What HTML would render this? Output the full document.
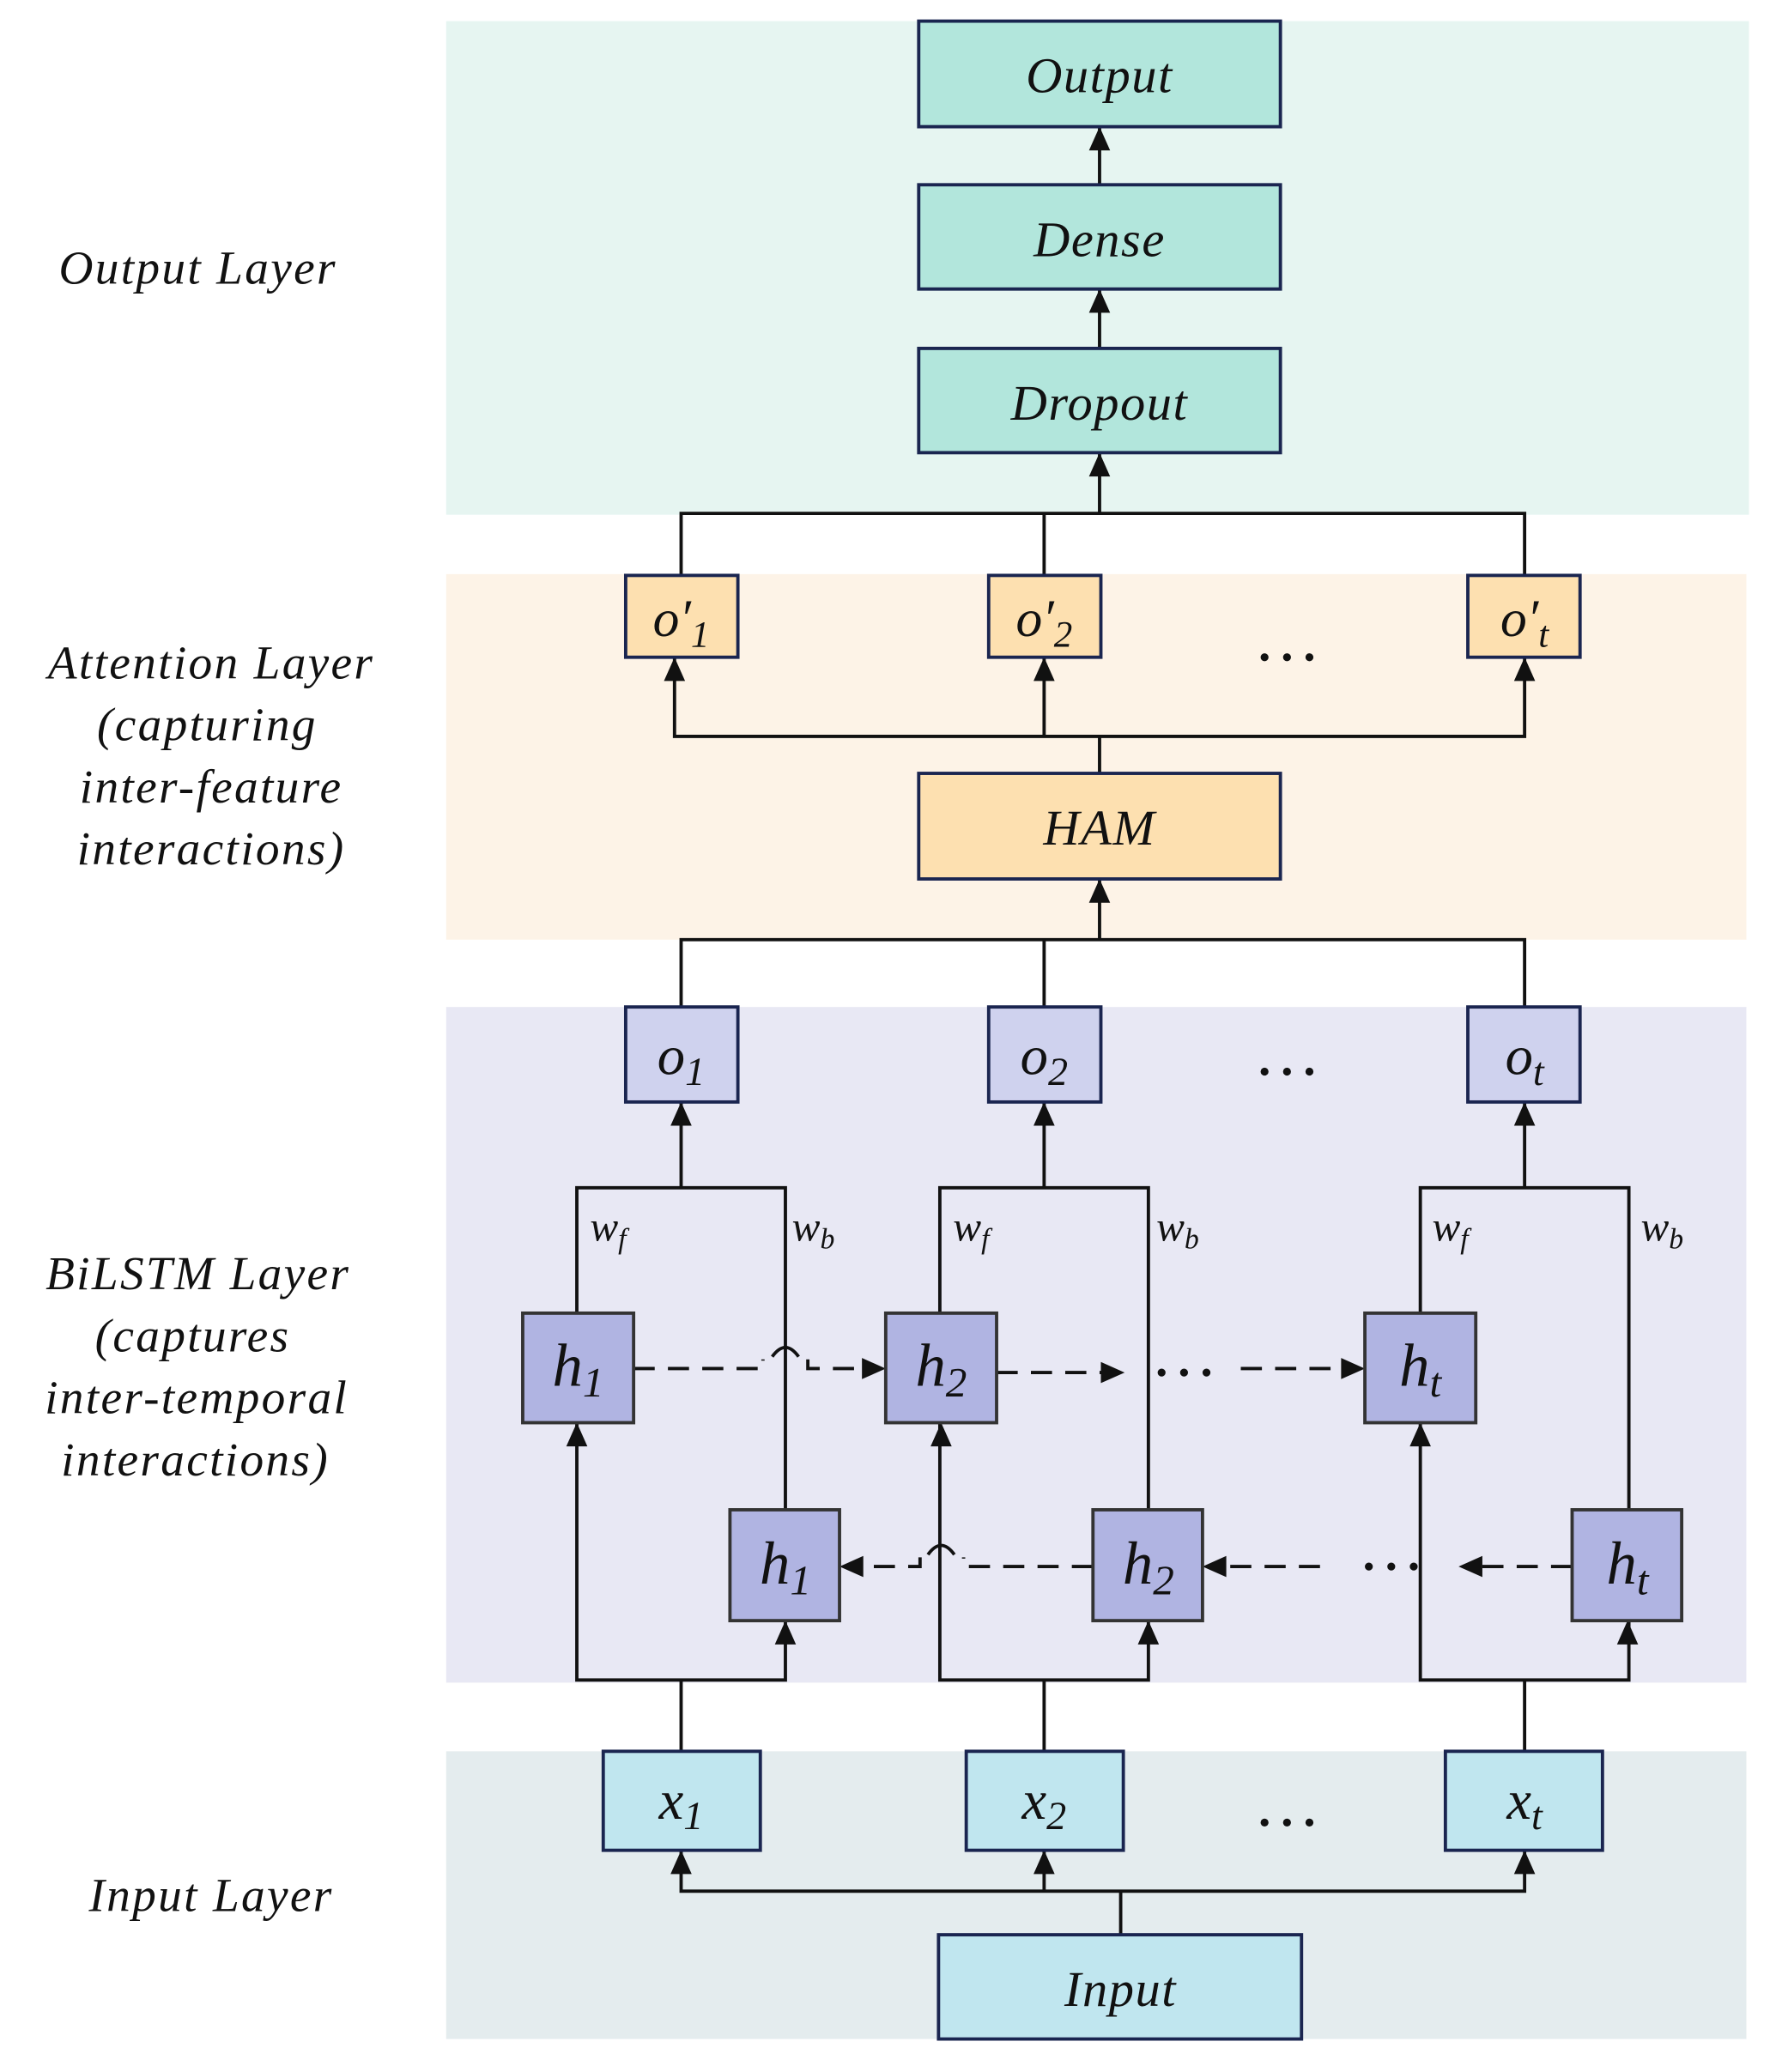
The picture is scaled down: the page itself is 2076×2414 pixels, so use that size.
<!DOCTYPE html>
<html><head><meta charset="utf-8"><style>
html,body{margin:0;padding:0;background:#fff;}
svg{display:block;}
text{font-family:"Liberation Serif",serif;font-style:italic;fill:#111;}
</style></head><body>
<svg width="2076" height="2414" viewBox="0 0 1350 1570" preserveAspectRatio="none" xmlns="http://www.w3.org/2000/svg">
<rect x="338" y="16" width="987" height="374" fill="#e6f5f1"/>
<rect x="338" y="435" width="985" height="277" fill="#fdf3e7"/>
<rect x="338" y="763" width="985" height="512" fill="#e8e8f4"/>
<rect x="338" y="1327" width="985" height="218" fill="#e4ecee"/>

<g stroke="#111" stroke-width="2.5" fill="none">
<line x1="833" y1="96" x2="833" y2="140"/>
<line x1="833" y1="219" x2="833" y2="264"/>
<line x1="833" y1="343" x2="833" y2="389"/>
<polyline points="516,436 516,389 1155,389 1155,436"/>
<line x1="791" y1="389" x2="791" y2="436"/>
<polyline points="511,498 511,558 1155,558 1155,498"/>
<line x1="791" y1="558" x2="791" y2="498"/>
<line x1="833" y1="558" x2="833" y2="586"/>
<line x1="833" y1="666" x2="833" y2="712"/>
<polyline points="516,763 516,712 1155,712 1155,763"/>
<line x1="791" y1="712" x2="791" y2="763"/>
<g id="g1">
<line x1="516" y1="835" x2="516" y2="900"/>
<polyline points="437,995 437,900 595,900 595,1144"/>
<polyline points="437,1078 437,1273 595,1273 595,1228"/>
<line x1="516" y1="1273" x2="516" y2="1327"/>
</g>
<use href="#g1" x="275"/>
<use href="#g1" x="639"/>
<polyline points="516,1402 516,1433 1155,1433 1155,1402"/>
<line x1="791" y1="1433" x2="791" y2="1402"/>
<line x1="849" y1="1433" x2="849" y2="1466"/>
</g>

<g stroke="#111" stroke-width="2.5" fill="none" stroke-dasharray="16,10">
<polyline points="480,1037 578,1037 578,1030"/>
<polyline points="612,1030 612,1037 660,1037"/>
<line x1="755" y1="1040" x2="838" y2="1040"/>
<line x1="940" y1="1037" x2="1022" y2="1037"/>
<polyline points="828,1187 730,1187 730,1180"/>
<polyline points="697,1180 697,1187 648,1187"/>
<line x1="1000" y1="1187" x2="922" y2="1187"/>
<line x1="1191" y1="1187" x2="1117" y2="1187"/>
</g>
<g stroke="#111" stroke-width="2.5" fill="none">
<path d="M585,1028 Q595,1014 605,1028"/>
<path d="M703,1178 Q713,1164 723,1178"/>
</g>
<g fill="#111">
<polygon points="833,96 825,114 841,114"/>
<polygon points="833,219 825,237 841,237"/>
<polygon points="833,343 825,361 841,361"/>
<polygon points="511,498 503,516 519,516"/>
<polygon points="791,498 783,516 799,516"/>
<polygon points="1155,498 1147,516 1163,516"/>
<polygon points="833,666 825,684 841,684"/>
<polygon points="516,835 508,853 524,853"/>
<polygon points="791,835 783,853 799,853"/>
<polygon points="1155,835 1147,853 1163,853"/>
<polygon points="437,1078 429,1096 445,1096"/>
<polygon points="713,1078 705,1096 721,1096"/>
<polygon points="1076,1078 1068,1096 1084,1096"/>
<polygon points="595,1228 587,1246 603,1246"/>
<polygon points="870,1228 862,1246 878,1246"/>
<polygon points="1233,1228 1225,1246 1241,1246"/>
<polygon points="516,1402 508,1420 524,1420"/>
<polygon points="791,1402 783,1420 799,1420"/>
<polygon points="1155,1402 1147,1420 1163,1420"/>
<polygon points="671,1037 653,1029 653,1045"/>
<polygon points="852,1040 834,1032 834,1048"/>
<polygon points="1034,1037 1016,1029 1016,1045"/>
<polygon points="636,1187 654,1179 654,1195"/>
<polygon points="911,1187 929,1179 929,1195"/>
<polygon points="1105,1187 1123,1179 1123,1195"/>
<circle cx="880" cy="1040" r="3"/><circle cx="897" cy="1040" r="3"/><circle cx="914" cy="1040" r="3"/>
<circle cx="1037" cy="1187" r="3"/><circle cx="1054" cy="1187" r="3"/><circle cx="1071" cy="1187" r="3"/>
<circle cx="958" cy="498" r="3"/><circle cx="975" cy="498" r="3"/><circle cx="992" cy="498" r="3"/>
<circle cx="958" cy="812" r="3"/><circle cx="975" cy="812" r="3"/><circle cx="992" cy="812" r="3"/>
<circle cx="958" cy="1381" r="3"/><circle cx="975" cy="1381" r="3"/><circle cx="992" cy="1381" r="3"/>
</g>

<g stroke="#1a2550" stroke-width="2.5">
<rect x="696" y="16" width="274" height="80" fill="#b2e6dc"/>
<rect x="696" y="140" width="274" height="79" fill="#b2e6dc"/>
<rect x="696" y="264" width="274" height="79" fill="#b2e6dc"/>
<rect x="474" y="436" width="85" height="62" fill="#fde0b0"/>
<rect x="749" y="436" width="85" height="62" fill="#fde0b0"/>
<rect x="1112" y="436" width="85" height="62" fill="#fde0b0"/>
<rect x="696" y="586" width="274" height="80" fill="#fde0b0"/>
<rect x="474" y="763" width="85" height="72" fill="#cfd2ee"/>
<rect x="749" y="763" width="85" height="72" fill="#cfd2ee"/>
<rect x="1112" y="763" width="85" height="72" fill="#cfd2ee"/>
<rect x="396" y="995" width="84" height="83" fill="#b0b4e2" stroke="#333"/>
<rect x="671" y="995" width="84" height="83" fill="#b0b4e2" stroke="#333"/>
<rect x="1034" y="995" width="84" height="83" fill="#b0b4e2" stroke="#333"/>
<rect x="553" y="1144" width="83" height="84" fill="#b0b4e2" stroke="#333"/>
<rect x="828" y="1144" width="83" height="84" fill="#b0b4e2" stroke="#333"/>
<rect x="1191" y="1144" width="83" height="84" fill="#b0b4e2" stroke="#333"/>
<rect x="457" y="1327" width="119" height="75" fill="#c0e6ef"/>
<rect x="732" y="1327" width="119" height="75" fill="#c0e6ef"/>
<rect x="1095" y="1327" width="119" height="75" fill="#c0e6ef"/>
<rect x="711" y="1466" width="275" height="79" fill="#c0e6ef"/>
</g>

<g font-size="38" text-anchor="middle" letter-spacing="1">
<text x="833" y="70">Output</text>
<text x="833" y="194">Dense</text>
<text x="833" y="318">Dropout</text>
<text x="833" y="640">HAM</text>
<text x="849" y="1520">Input</text>
</g>
<g text-anchor="middle">
<text x="516" y="482" font-size="40">o′<tspan font-size="28" dy="8">1</tspan></text>
<text x="791" y="482" font-size="40">o′<tspan font-size="28" dy="8">2</tspan></text>
<text x="1155" y="482" font-size="40">o′<tspan font-size="28" dy="8">t</tspan></text>
<text x="516" y="814" font-size="42">o<tspan font-size="30" dy="8">1</tspan></text>
<text x="791" y="814" font-size="42">o<tspan font-size="30" dy="8">2</tspan></text>
<text x="1155" y="814" font-size="42">o<tspan font-size="30" dy="8">t</tspan></text>
<text x="438" y="1050" font-size="46">h<tspan font-size="32" dy="8">1</tspan></text>
<text x="713" y="1050" font-size="46">h<tspan font-size="32" dy="8">2</tspan></text>
<text x="1076" y="1050" font-size="46">h<tspan font-size="32" dy="8">t</tspan></text>
<text x="595" y="1200" font-size="46">h<tspan font-size="32" dy="8">1</tspan></text>
<text x="870" y="1200" font-size="46">h<tspan font-size="32" dy="8">2</tspan></text>
<text x="1233" y="1200" font-size="46">h<tspan font-size="32" dy="8">t</tspan></text>
<text x="516" y="1378" font-size="42">x<tspan font-size="30" dy="8">1</tspan></text>
<text x="791" y="1378" font-size="42">x<tspan font-size="30" dy="8">2</tspan></text>
<text x="1155" y="1378" font-size="42">x<tspan font-size="30" dy="8">t</tspan></text>
</g>
<g font-size="32">
<text x="447" y="940">w<tspan font-size="22" dy="6">f</tspan></text>
<text x="600" y="940">w<tspan font-size="22" dy="6">b</tspan></text>
<text x="722" y="940">w<tspan font-size="22" dy="6">f</tspan></text>
<text x="876" y="940">w<tspan font-size="22" dy="6">b</tspan></text>
<text x="1085" y="940">w<tspan font-size="22" dy="6">f</tspan></text>
<text x="1243" y="940">w<tspan font-size="22" dy="6">b</tspan></text>
</g>
<g font-size="36" text-anchor="middle" letter-spacing="1.5">
<text x="150" y="215">Output Layer</text>
<text x="160" y="514">Attention Layer</text>
<text x="157" y="561">(capturing</text>
<text x="160" y="608">inter-feature</text>
<text x="160" y="655">interactions)</text>
<text x="150" y="977">BiLSTM Layer</text>
<text x="146" y="1024">(captures</text>
<text x="149" y="1071">inter-temporal</text>
<text x="148" y="1118">interactions)</text>
<text x="160" y="1448">Input Layer</text>
</g>
</svg>
</body></html>
